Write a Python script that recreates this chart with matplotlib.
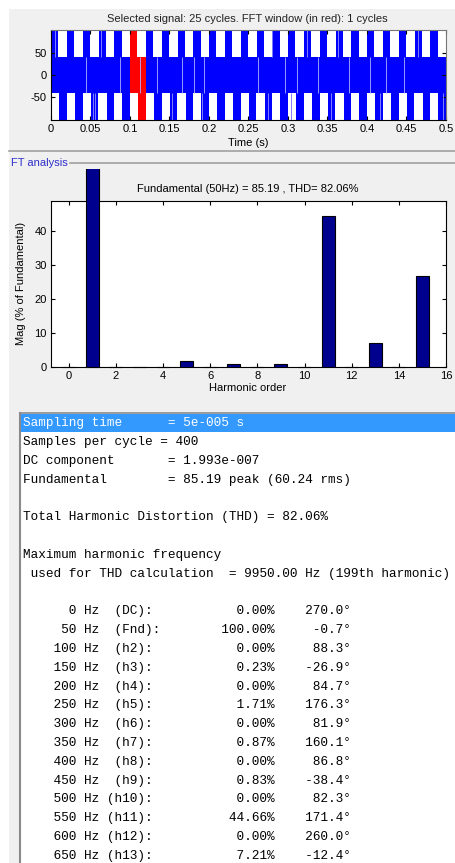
import matplotlib
matplotlib.use('Agg')
import matplotlib.pyplot as plt
import numpy as np
from matplotlib.patches import Rectangle
from matplotlib.lines import Line2D
from matplotlib.transforms import Bbox, TransformedBbox

# ---- data ----
n_cycles = 25
cycle_T = 0.02                 # 50 Hz
# within one cycle: offsets where the wave sits at the high level
pos_pulse = (0.0003, 0.0093)
neg_pulse = (0.0104, 0.0199)
v_high = 104.0
v_mid = 41.5
fft_window = (0.10, 0.12)
# odd switching edges that show up as thin lines
spikes_top = [0.005, 0.0629, 0.2797, 0.3241, 0.3633, 0.4646]
spikes_bot = [0.0528, 0.0557, 0.1532, 0.1908, 0.2747, 0.3038, 0.3544, 0.4165, 0.4962]
gaps_mid = [0.0443, 0.0873, 0.1127, 0.1346, 0.1653, 0.1804, 0.1937, 0.2620, 0.2962,
            0.3114, 0.3380, 0.3770, 0.4038, 0.4241, 0.4468]

time_ticks = [0, 0.05, 0.1, 0.15, 0.2, 0.25, 0.3, 0.35, 0.4, 0.45, 0.5]
time_labels = ['0', '0.05', '0.1', '0.15', '0.2', '0.25', '0.3', '0.35', '0.4', '0.45', '0.5']
sig_yticks = [-50, 0, 50]

harmonics = list(range(16))
mag_pct = [0.00, 100.00, 0.00, 0.23, 0.00, 1.71, 0.00, 0.87, 0.00, 0.83, 0.00, 44.66, 0.00, 7.21, 0.00, 27.0]
harm_xticks = [0, 2, 4, 6, 8, 10, 12, 14, 16]
harm_yticks = [0, 10, 20, 30, 40]

info_lines = [
    'Sampling time      = 5e-005 s',
    'Samples per cycle = 400',
    'DC component       = 1.993e-007',
    'Fundamental        = 85.19 peak (60.24 rms)',
    '',
    'Total Harmonic Distortion (THD) = 82.06%',
    '',
    'Maximum harmonic frequency',
    ' used for THD calculation  = 9950.00 Hz (199th harmonic)',
    '',
]
tab_freq = [0, 50, 100, 150, 200, 250, 300, 350, 400, 450, 500, 550, 600, 650]
tab_name = ['DC', 'Fnd', 'h2', 'h3', 'h4', 'h5', 'h6', 'h7', 'h8', 'h9', 'h10', 'h11', 'h12', 'h13']
tab_mag = [0.00, 100.00, 0.00, 0.23, 0.00, 1.71, 0.00, 0.87, 0.00, 0.83, 0.00, 44.66, 0.00, 7.21]
tab_phase = [270.0, -0.7, 88.3, -26.9, 84.7, 176.3, 81.9, 160.1, 86.8, -38.4, 82.3, 171.4, 260.0, -12.4]

# ---- figure ----
W, H = 456, 863
fig = plt.figure(figsize=(W / 100, H / 100), dpi=100)
fig.patch.set_facecolor('white')
plt.rcParams['font.family'] = ['Liberation Sans', 'DejaVu Sans']
plt.rcParams['axes.unicode_minus'] = False


def box(l, t, r, b):
    return [l / W, 1 - b / H, (r - l) / W, (b - t) / H]


def fy(y):
    return 1 - y / H


GRAY = '#F0F0F0'
fig.add_artist(Rectangle((9 / W, 0), 1 - 9 / W, fy(9), transform=fig.transFigure,
                         fc=GRAY, ec='none', zorder=-3))
# list box
fig.add_artist(Rectangle((20 / W, 0), 1 - 20 / W, fy(413), transform=fig.transFigure,
                         fc='white', ec='none', zorder=-2))
fig.add_artist(Line2D([20 / W, 20 / W], [0, fy(413)], transform=fig.transFigure,
                      color='#8A8A8A', lw=1.5, zorder=-1))
fig.add_artist(Line2D([20 / W, 1], [fy(413), fy(413)], transform=fig.transFigure,
                      color='#8A8A8A', lw=1.2, zorder=-1))
fig.add_artist(Rectangle((21 / W, fy(432.3)), 1 - 21 / W, (432.3 - 414) / H,
                         transform=fig.transFigure, fc='#3399FF', ec='none', zorder=-1))
# panel separators
fig.add_artist(Line2D([9 / W, 1], [fy(151), fy(151)], transform=fig.transFigure,
                  color='#A0A0A0', lw=1.2))
fig.add_artist(Line2D([70 / W, 1], [fy(163.5), fy(163.5)], transform=fig.transFigure,
                  color='#A0A0A0', lw=1.2))
fig.text(11.5 / W, fy(163.3), 'FT analysis', color='#2F2FCC', fontsize=8, ha='left', va='center')

# ---- signal plot ----
ax1 = fig.add_axes(box(51, 30, 446, 120))
t, up, lo = [], [], []
for k in range(n_cycles):
    t0 = k * cycle_T
    t += [t0, t0 + pos_pulse[0], t0 + pos_pulse[1], t0 + neg_pulse[0], t0 + neg_pulse[1]]
    up += [v_mid, v_high, v_mid, v_mid, v_mid]
    lo += [-v_mid, -v_mid, -v_mid, -v_high, -v_mid]
t.append(n_cycles * cycle_T)
up.append(v_mid)
lo.append(-v_mid)
t, up, lo = np.array(t), np.array(up), np.array(lo)

ax1.fill_between(t, lo, up, step='post', color='#0000FF', lw=0)
ax1.vlines(spikes_top, v_mid, v_high, color='#7F7FFF', lw=0.7)
ax1.vlines(spikes_bot, -v_high, -v_mid, color='#7F7FFF', lw=0.7)
ax1.vlines(gaps_mid, -v_mid, v_mid, color='#B0B0FF', lw=0.6)
m = (t >= fft_window[0] - 1e-9) & (t <= fft_window[1] + 1e-9)
ax1.fill_between(t[m], lo[m], up[m], step='post', color='#FF0000', lw=0)

ax1.set_xlim(0, 0.5)
ax1.set_ylim(-v_high, v_high)
ax1.set_xticks(time_ticks)
ax1.set_xticklabels(time_labels)
ax1.set_yticks(sig_yticks)
ax1.tick_params(direction='in', top=True, right=True, length=3, labelsize=8, pad=3, width=0.8)
for s in ax1.spines.values():
    s.set_linewidth(0.8)
ax1.spines['top'].set_color('#777777')
ax1.spines['right'].set_color('#777777')
fig.text(248 / W, fy(143), 'Time (s)', fontsize=8, ha='center', va='center')
fig.text(247 / W, fy(19), 'Selected signal: 25 cycles. FFT window (in red): 1 cycles',
         fontsize=8, ha='center', va='center', color='#222222')

# ---- harmonic bar chart ----
ax2 = fig.add_axes(box(51, 200.5, 446, 367.3))
bars = ax2.bar(harmonics, mag_pct, width=0.55, color='#00008F', edgecolor='black', lw=0.8, zorder=3)
for b, v in zip(bars, mag_pct):
    if v < 0.5:
        b.set_clip_on(False)
clip = TransformedBbox(Bbox.from_extents(0, 0, 1, fy(169.3)), fig.transFigure)
bars[1].set_clip_box(clip)
bars[1].set_clip_on(True)
ax2.set_xlim(-0.75, 16)
ax2.set_ylim(0, max(mag_pct[2:]) * 1.1)
ax2.set_xticks(harm_xticks)
ax2.set_yticks(harm_yticks)
ax2.tick_params(direction='in', top=True, right=True, length=3, labelsize=8, pad=3, width=0.8)
for s in ax2.spines.values():
    s.set_linewidth(0.8)
ax2.set_ylabel('Mag (% of Fundamental)', fontsize=8, labelpad=6)
fig.text(248 / W, fy(388), 'Harmonic order', fontsize=8, ha='center', va='center')
fig.text(248 / W, fy(189), 'Fundamental (50Hz) = 85.19 , THD= 82.06%',
         fontsize=8, ha='center', va='center')

# ---- text list ----
rows = list(info_lines)
for f, n, mg, ph in zip(tab_freq, tab_name, tab_mag, tab_phase):
    if n in ('DC', 'Fnd'):
        left = '%7d Hz  (%s):' % (f, n)
    else:
        left = '%7d Hz %s' % (f, ('(%s):' % n).rjust(6))
    rows.append(left + ('%.2f%%' % mg).rjust(33 - len(left)) + ('%.1f°' % ph).rjust(10))

y0, dy = 423.3, 18.8
for i, line in enumerate(rows):
    fig.text(22.7 / W, fy(y0 + i * dy), line, family=['Liberation Mono', 'DejaVu Sans Mono'],
             fontsize=9.2, ha='left', va='center', color='white' if i == 0 else 'black')

fig.savefig('out.png', dpi=100)
